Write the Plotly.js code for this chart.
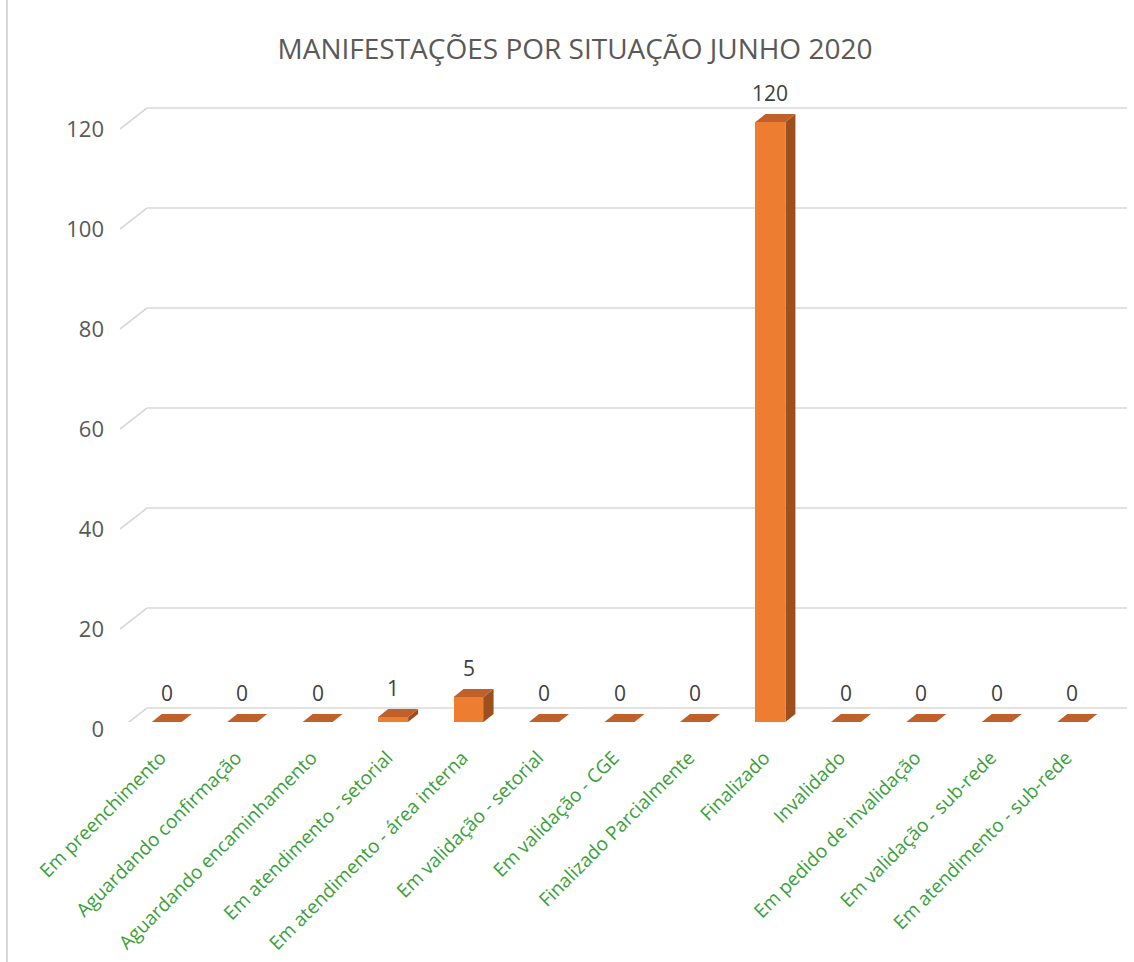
<!DOCTYPE html>
<html>
<head>
<meta charset="utf-8">
<script src="https://cdn.plot.ly/plotly-3.0.1.min.js"></script>
<style>html,body{margin:0;padding:0;background:#fff;}#chart{width:1134px;height:962px;}</style>
</head>
<body>
<div id="chart"></div>
<script>
// ---- data ----
const categories = [
  "Em preenchimento",
  "Aguardando confirmação",
  "Aguardando encaminhamento",
  "Em atendimento - setorial",
  "Em atendimento - área interna",
  "Em validação - setorial",
  "Em validação - CGE",
  "Finalizado Parcialmente",
  "Finalizado",
  "Invalidado",
  "Em pedido de invalidação",
  "Em validação - sub-rede",
  "Em atendimento - sub-rede"
];
const values = [0, 0, 0, 1, 5, 0, 0, 0, 120, 0, 0, 0, 0];
const yTicks = [0, 20, 40, 60, 80, 100, 120];
const chartTitle = "MANIFESTAÇÕES POR SITUAÇÃO JUNHO 2020";

// ---- geometry / style ----
const W = 1134, H = 962;
const mL = 129, mR = 24, mT = 97, mB = 240;
const plotW = W - mL - mR, plotH = H - mT - mB;
const yMax = 125;
const pxPerCat = plotW / categories.length;
const pxPerUnit = plotH / yMax;
const barW = 30 / pxPerCat;          // bar width in category units
const depthX = 10 / pxPerCat;        // 3D side depth (x)
const depthY = 8 / pxPerUnit;        // 3D side depth (y)
const px2paperX = p => (p - mL) / plotW;
const px2paperY = p => (H - mB - p) / plotH;

const xIdx = categories.map((c, i) => i);

// side & top faces built from the data
const sideX = [], sideY = [], topX = [], topY = [];
xIdx.forEach((i) => {
  const v = values[i];
  const l = i - barW / 2, r = i + barW / 2;
  if (v > 0) {
    sideX.push(r, r + depthX, r + depthX, r, r, null);
    sideY.push(0, depthY, v + depthY, v, 0, null);
  }
  topX.push(l, r, r + depthX, l + depthX, l, null);
  topY.push(v, v, v + depthY, v + depthY, v, null);
});

const traces = [
  {
    type: 'bar', x: xIdx, y: values, width: barW,
    marker: { color: '#ED7D31', line: { width: 0 } },
    hoverinfo: 'skip', showlegend: false
  },
  {
    type: 'scatter', mode: 'lines', x: sideX, y: sideY, fill: 'toself',
    fillcolor: '#9E4F1E', line: { width: 0, color: '#9E4F1E' },
    hoverinfo: 'skip', showlegend: false
  },
  {
    type: 'scatter', mode: 'lines', x: topX, y: topY, fill: 'toself',
    fillcolor: '#C0602A', line: { width: 0, color: '#C0602A' },
    hoverinfo: 'skip', showlegend: false
  }
];

// gridlines (back wall) + perspective stubs
const shapes = [];
yTicks.forEach(t => {
  shapes.push({
    type: 'line', xref: 'paper', yref: 'y', ysizemode: 'pixel', yanchor: t,
    x0: px2paperX(147), x1: px2paperX(1127), y0: 14, y1: 14,
    line: { color: '#D9D9D9', width: 1.6 }, layer: 'below'
  });
  shapes.push({
    type: 'line', xref: 'paper', yref: 'y', ysizemode: 'pixel', yanchor: t,
    x0: px2paperX(120), x1: px2paperX(147), y0: -7, y1: 14,
    line: { color: '#D9D9D9', width: 1.6 }, layer: 'below'
  });
});
// chart border on the left
shapes.push({
  type: 'line', xref: 'paper', yref: 'paper',
  x0: px2paperX(7), x1: px2paperX(7), y0: px2paperY(H), y1: px2paperY(0),
  line: { color: '#D9D9D9', width: 2 }
});

// data labels
const annotations = xIdx.map(i => ({
  x: i, y: values[i], xref: 'x', yref: 'y',
  text: String(values[i]), showarrow: false,
  yanchor: 'bottom', yshift: 13,
  font: { family: 'Open Sans, sans-serif', size: 21, color: '#404040' }
}));

const layout = {
  width: W, height: H,
  margin: { l: mL, r: mR, t: mT, b: mB, pad: 0 },
  paper_bgcolor: '#ffffff', plot_bgcolor: 'rgba(0,0,0,0)',
  title: {
    text: chartTitle,
    xref: 'container', yref: 'container', x: 575 / W, y: 1 - 49 / H,
    xanchor: 'center', yanchor: 'middle',
    font: { family: 'Open Sans, sans-serif', size: 28, color: '#595959' }
  },
  xaxis: {
    type: 'linear', range: [-0.5, categories.length - 0.5],
    tickvals: xIdx, ticktext: categories, tickangle: -45,
    showgrid: false, zeroline: false, showline: false, ticks: '',
    ticklabelstandoff: 20, ticklabelshift: -6,
    tickfont: { family: 'Open Sans, sans-serif', size: 19, color: '#3A9F3A' },
    fixedrange: true
  },
  yaxis: {
    range: [0, yMax], tickvals: yTicks,
    showgrid: false, zeroline: false, showline: false, ticks: '',
    ticklabelshift: 7, ticklabelstandoff: 24,
    tickfont: { family: 'Open Sans, sans-serif', size: 22, color: '#595959' },
    fixedrange: true
  },
  shapes: shapes,
  annotations: annotations,
  showlegend: false,
  bargap: 0
};

Plotly.newPlot('chart', traces, layout, { displayModeBar: false, staticPlot: true });
</script>
</body>
</html>
